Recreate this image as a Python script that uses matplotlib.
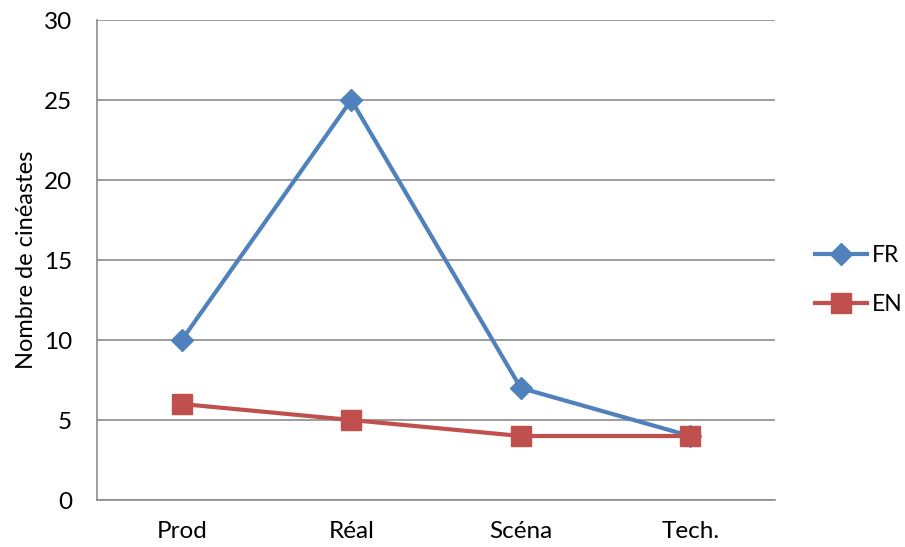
import matplotlib
matplotlib.use("Agg")
import matplotlib.pyplot as plt

plt.rcParams['font.family'] = ['Lato', 'DejaVu Sans']

# données
categories = ["Prod", "Réal", "Scéna", "Tech."]
fr = [10, 25, 7, 4]
en = [6, 5, 4, 4]
y_ticks = [0, 5, 10, 15, 20, 25, 30]

bleu = "#4F81BD"
rouge = "#C0504D"
gris = "#8C8C8C"

fig = plt.figure(figsize=(9.05, 5.47), dpi=100)
ax = fig.add_axes([0.1072, 0.0859, 0.7492, 0.8775])

x = list(range(len(categories)))
l1, = ax.plot(x, fr, color=bleu, lw=3, marker="D", ms=11, label="FR", zorder=3)
l2, = ax.plot(x, en, color=rouge, lw=3, marker="s", ms=14, label="EN", zorder=3)

ax.set_xlim(-0.5, len(categories) - 0.5)
ax.set_ylim(0, 30)
ax.set_yticks(y_ticks)
ax.set_xticks(x)
ax.set_xticklabels(categories)
ax.tick_params(axis="both", length=0, labelsize=17.5)
ax.tick_params(axis="x", pad=15)
ax.tick_params(axis="y", pad=18)
ax.grid(axis="y", color=gris, lw=1.2)
ax.set_axisbelow(True)
for s in ["top", "right"]:
    ax.spines[s].set_visible(False)
for s in ["left", "bottom"]:
    ax.spines[s].set_color(gris)
    ax.spines[s].set_linewidth(1.2)

ax.set_ylabel("Nombre de cinéastes", fontsize=17, labelpad=5)

# légende à droite
fig.legend(handles=[l1, l2], loc="center left", bbox_to_anchor=(0.9, 0.488),
           frameon=False, fontsize=16.5, handlelength=2.3, handletextpad=0.2,
           labelspacing=1.25, borderpad=0, borderaxespad=0)

fig.savefig("out.png", dpi=100)
